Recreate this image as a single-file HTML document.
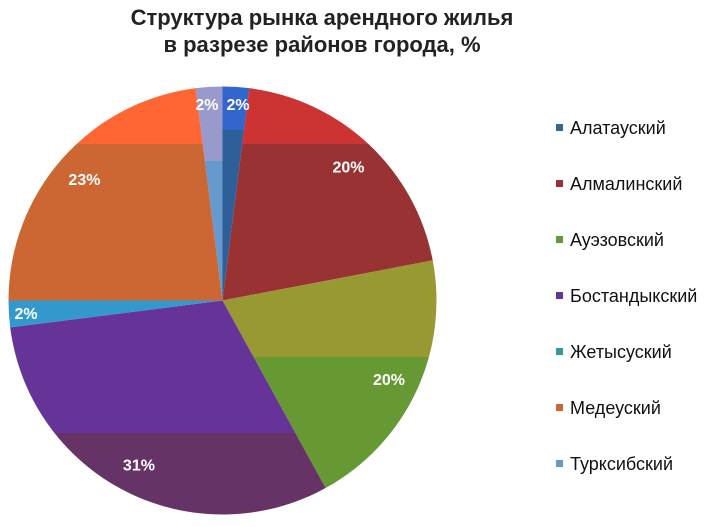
<!DOCTYPE html>
<html><head><meta charset="utf-8"><style>
html,body{margin:0;padding:0;background:#fff;width:720px;height:527px;overflow:hidden;font-family:"Liberation Sans",sans-serif}
svg{display:block;position:absolute;left:0;top:0}
</style></head><body>
<svg id="chart" width="720" height="527">
<text x="322" y="25" text-anchor="middle" font-size="22" font-weight="bold" fill="#222">Структура рынка арендного жилья</text>
<text x="322" y="52" text-anchor="middle" font-size="22" font-weight="bold" fill="#222">в разрезе районов города, %</text>
<g id="slices"></g><g id="labels"></g><g id="legend"></g>
</svg>
<script>
const categories=["Алатауский","Алмалинский","Ауэзовский","Бостандыкский","Жетысуский","Медеуский","Турксибский"];
const values=[2,20,20,31,2,23,2];
const valueLabels=["2%","20%","20%","31%","2%","23%","2%"];
const topColors=["#3366cc","#cc3333","#999933","#663399","#3399cc","#ff6633","#9999cc"];
const bottomColors=["#2e5f99","#993333","#669933","#663366","#339999","#cc6633","#6699cc"];
const legendColors=["#336699","#993333","#669933","#663399","#339999","#cc6633","#6699cc"];
const bandSplitY=[130,144,357,433,327,144,161];
const cx=222.5,cy=300.5,R=214;
const NS="http://www.w3.org/2000/svg";
const total=values.reduce((a,b)=>a+b,0);
function pt(a,r){return [cx+r*Math.sin(a),cy-r*Math.cos(a)];}
const sl=document.getElementById('slices'),lb=document.getElementById('labels'),lg=document.getElementById('legend');
const defs=document.createElementNS(NS,'defs');document.getElementById('chart').prepend(defs);
let acc=0;
values.forEach((v,i)=>{
  const a0=acc/total*2*Math.PI;acc+=v;const a1=acc/total*2*Math.PI;
  const p0=pt(a0,R),p1=pt(a1,R);
  const d=`M${cx},${cy}L${p0[0]},${p0[1]}A${R},${R} 0 ${a1-a0>Math.PI?1:0} 1 ${p1[0]},${p1[1]}Z`;
  const cp=document.createElementNS(NS,'clipPath');cp.setAttribute('id','c'+i);
  const cpp=document.createElementNS(NS,'path');cpp.setAttribute('d',d);cp.appendChild(cpp);defs.appendChild(cp);
  const g=document.createElementNS(NS,'g');
  
  
  g.setAttribute('clip-path','url(#c'+i+')');
  const r1=document.createElementNS(NS,'rect');r1.setAttribute('x',0);r1.setAttribute('y',0);r1.setAttribute('width',720);r1.setAttribute('height',bandSplitY[i]);r1.setAttribute('fill',topColors[i]);
  const r2=document.createElementNS(NS,'rect');r2.setAttribute('x',0);r2.setAttribute('y',bandSplitY[i]);r2.setAttribute('width',720);r2.setAttribute('height',527-bandSplitY[i]);r2.setAttribute('fill',bottomColors[i]);
  g.appendChild(r1);g.appendChild(r2);sl.appendChild(g);
  const am=(a0+a1)/2,lp=pt(am,R*(v<5?0.92:0.86));
  let anchor='middle',lx=lp[0];
  if(v<5&&Math.cos(am)>0.9){anchor=Math.sin(am)>0?'start':'end';lx=cx+(Math.sin(am)>0?4:-4);}
  const t=document.createElementNS(NS,'text');
  
  
  t.setAttribute('x',lx);t.setAttribute('y',lp[1]+6);t.setAttribute('text-anchor',anchor);
  t.setAttribute('font-size','16');t.setAttribute('font-weight','bold');t.setAttribute('fill','#fff');
  t.textContent=valueLabels[i];lb.appendChild(t);
  const y=128+i*56;
  const s=document.createElementNS(NS,'rect');
  
  
  s.setAttribute('x',556);s.setAttribute('y',y-4);s.setAttribute('width',7);s.setAttribute('height',7);s.setAttribute('fill',legendColors[i]);lg.appendChild(s);
  const lt=document.createElementNS(NS,'text');
  
  
  lt.setAttribute('x',570);lt.setAttribute('y',y+6);lt.setAttribute('font-size','18');lt.setAttribute('fill','#111');
  lt.textContent=categories[i];lg.appendChild(lt);
});
</script>
</body></html>
